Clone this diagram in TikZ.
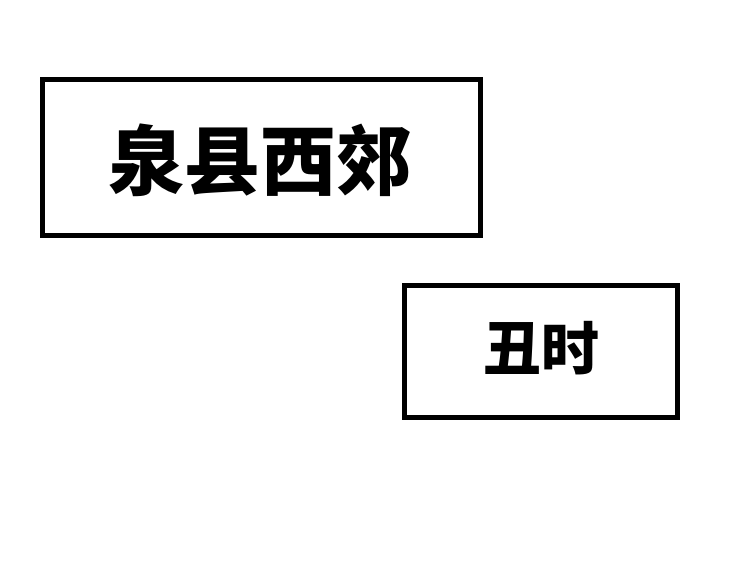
\documentclass[tikz,border=0pt]{standalone}
\usepackage{fontspec}
\newfontfamily\cjk{Noto Sans CJK SC}
\begin{document}
\begin{tikzpicture}[x=1pt,y=-1pt,
  box/.style={draw=black,line width=5pt,fill=white},
  lbl/.style={font=\cjk\bfseries, inner sep=0pt}]
\useasboundingbox (0,0) rectangle (750,586);
\draw[box] (42,80) rectangle (480,235);
\node[lbl,font=\cjk\bfseries\fontsize{76}{80}\selectfont] (t1) at (260,160) {泉县西郊};
\draw[box] (404,285) rectangle (677,417);
\node[lbl,font=\cjk\bfseries\fontsize{58}{62}\selectfont] (t2) at (541,348) {丑时};
\end{tikzpicture}
\end{document}
